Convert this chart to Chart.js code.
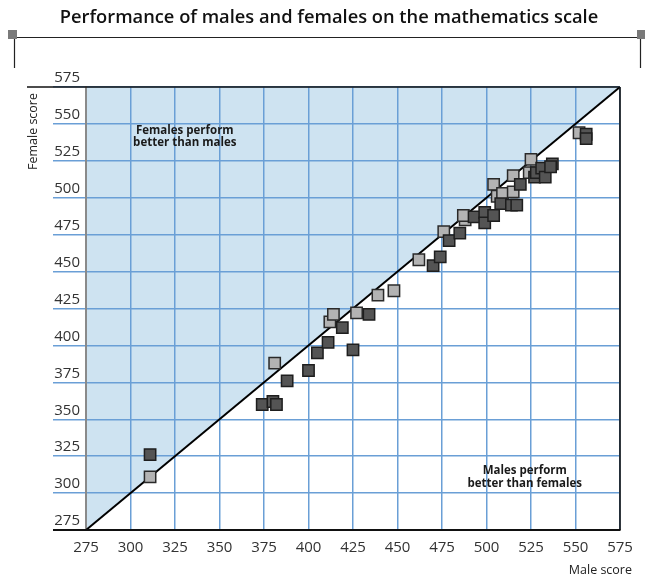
<!DOCTYPE html>
<html>
<head>
<meta charset="utf-8">
<title>Performance of males and females on the mathematics scale</title>
<script src="https://cdn.jsdelivr.net/npm/chart.js@4/dist/chart.umd.min.js"></script>
<style>
  html, body { margin: 0; padding: 0; background: #ffffff; }
  canvas { display: block; }
</style>
</head>
<body>
<canvas id="chart" width="645" height="576"></canvas>
<script>
// Text
const chartTitle = 'Performance of males and females on the mathematics scale';
const xAxisTitle = 'Male score';
const yAxisTitle = 'Female score';
const femaleNote = ['Females perform', 'better than males'];
const maleNote = ['Males perform', 'better than females'];

// Axis ticks (score points)
const scoreTicks = [275, 300, 325, 350, 375, 400, 425, 450, 475, 500, 525, 550, 575];

// Line of equal performance (male score = female score)
const parityScores = [275, 575];

// Countries where the gender difference is not statistically significant
const nsMale   = [311, 381, 412, 414, 427, 439, 448, 462, 476, 488, 487, 504, 506, 509, 515, 515, 524, 525, 552];
const nsFemale = [311, 388, 416, 421, 422, 434, 437, 458, 477, 485, 488, 509, 501, 503, 504, 515, 517, 526, 544];

// Countries where the gender difference is statistically significant
const sigMale   = [311, 374, 380, 382, 388, 400, 405, 411, 419, 425, 434, 470, 474, 479, 485, 493, 499, 499, 504, 508, 514, 517, 519, 527, 528, 531, 533, 537, 536, 556, 556];
const sigFemale = [326, 360, 362, 360, 376, 383, 395, 402, 412, 397, 421, 454, 460, 471, 476, 487, 490, 483, 488, 496, 495, 495, 509, 514, 517, 520, 514, 523, 521, 543, 540];

const toPoints = (xs, ys) => xs.map((x, i) => ({ x: x, y: ys[i] }));

const FONT = "'Open Sans', 'DejaVu Sans', sans-serif";
const GRID_BLUE = '#6a9fd6';
const AREA_BLUE = '#cee3f1';

// Shades the region where females score higher, underneath the grid
const femaleRegion = {
  id: 'femaleRegion',
  beforeDraw(chart) {
    const { ctx, scales: { x, y } } = chart;
    const lo = parityScores[0], hi = parityScores[1];
    ctx.save();
    ctx.fillStyle = AREA_BLUE;
    ctx.beginPath();
    ctx.moveTo(x.getPixelForValue(lo), y.getPixelForValue(lo));
    ctx.lineTo(x.getPixelForValue(hi), y.getPixelForValue(hi));
    ctx.lineTo(x.getPixelForValue(lo), y.getPixelForValue(hi));
    ctx.closePath();
    ctx.fill();
    ctx.restore();
  }
};

// Frame lines, header rule, axis titles and region notes
const frameDecor = {
  id: 'frameDecor',
  afterDraw(chart) {
    const { ctx, chartArea: a, scales: { x, y } } = chart;
    ctx.save();
    ctx.strokeStyle = '#111';
    ctx.lineCap = 'butt';

    // top frame line (extends left past the tick labels)
    ctx.lineWidth = 1.6;
    ctx.beginPath();
    ctx.moveTo(27, a.top);
    ctx.lineTo(a.right, a.top);
    ctx.stroke();

    // right frame line
    ctx.beginPath();
    ctx.moveTo(a.right, a.top);
    ctx.lineTo(a.right, a.bottom);
    ctx.stroke();

    // bottom frame line
    ctx.lineWidth = 2;
    ctx.beginPath();
    ctx.moveTo(53, a.bottom);
    ctx.lineTo(a.right, a.bottom);
    ctx.stroke();

    // header rule with end caps
    ctx.lineWidth = 1.2;
    ctx.strokeStyle = '#222';
    ctx.beginPath();
    ctx.moveTo(13, 37.5);
    ctx.lineTo(640, 37.5);
    ctx.moveTo(14.5, 37.5);
    ctx.lineTo(14.5, 68);
    ctx.moveTo(640.5, 37.5);
    ctx.lineTo(640.5, 68);
    ctx.stroke();
    ctx.fillStyle = '#7a7a7a';
    ctx.fillRect(8, 30, 9, 9);
    ctx.fillRect(637, 30, 9, 9);

    // axis titles
    ctx.fillStyle = '#222';
    ctx.font = '12.5px ' + FONT;
    ctx.textBaseline = 'middle';
    ctx.textAlign = 'right';
    ctx.fillText(xAxisTitle, 632, 570);
    ctx.save();
    ctx.translate(33, 93);
    ctx.rotate(-Math.PI / 2);
    ctx.textAlign = 'right';
    ctx.fillText(yAxisTitle, 0, 0);
    ctx.restore();

    // region notes
    ctx.fillStyle = '#1a1a1a';
    ctx.font = 'bold 11.5px ' + FONT;
    ctx.textAlign = 'center';
    const fx = x.getPixelForValue(330.5), fy = y.getPixelForValue(545.5);
    ctx.fillText(femaleNote[0], fx, fy);
    ctx.fillText(femaleNote[1], fx, fy + 12.5);
    const mx = x.getPixelForValue(521.5), my = y.getPixelForValue(315);
    ctx.fillText(maleNote[0], mx, my);
    ctx.fillText(maleNote[1], mx, my + 12.5);

    ctx.restore();
  }
};

new Chart(document.getElementById('chart'), {
  type: 'scatter',
  data: {
    datasets: [
      {
        label: 'Equal performance',
        type: 'line',
        data: toPoints(parityScores, parityScores),
        borderColor: '#000',
        borderWidth: 2,
        pointRadius: 0,
        fill: false,
        order: 3
      },
      {
        label: 'Difference not statistically significant',
        data: toPoints(nsMale, nsFemale),
        pointStyle: 'rect',
        pointRadius: 8,
        pointHoverRadius: 8,
        backgroundColor: '#b3b3b3',
        borderColor: '#2a2a2a',
        borderWidth: 1.5,
        order: 2
      },
      {
        label: 'Difference statistically significant',
        data: toPoints(sigMale, sigFemale),
        pointStyle: 'rect',
        pointRadius: 8,
        pointHoverRadius: 8,
        backgroundColor: '#545454',
        borderColor: '#1e1e1e',
        borderWidth: 1.5,
        order: 1
      }
    ]
  },
  options: {
    responsive: false,
    animation: false,
    events: [],
    layout: { padding: { top: 0, right: 25, bottom: 0, left: 38 } },
    plugins: {
      legend: { display: false },
      tooltip: { enabled: false },
      title: {
        display: true,
        text: chartTitle,
        color: '#111',
        font: { family: FONT, size: 18.3, weight: '600', lineHeight: 1.2 },
        padding: { top: 7, bottom: 58.04 }
      }
    },
    scales: {
      x: {
        type: 'linear',
        min: scoreTicks[0],
        max: scoreTicks[scoreTicks.length - 1],
        afterBuildTicks: (s) => { s.ticks = scoreTicks.map(v => ({ value: v })); },
        afterFit: (s) => { s.height = 46; },
        grid: { color: GRID_BLUE, lineWidth: 1.5, drawTicks: false },
        border: { color: '#000', width: 2 },
        ticks: {
          color: '#333',
          font: { family: FONT, size: 15 },
          padding: 9,
          maxRotation: 0,
          autoSkip: false
        }
      },
      y: {
        type: 'linear',
        min: scoreTicks[0],
        max: scoreTicks[scoreTicks.length - 1],
        afterBuildTicks: (s) => { s.ticks = scoreTicks.map(v => ({ value: v })); },
        afterFit: (s) => { s.width = 48; },
        grid: { color: GRID_BLUE, lineWidth: 1.5, drawTicks: true, tickLength: 33, tickColor: GRID_BLUE, tickWidth: 1.5 },
        border: { color: '#8a8a8a', width: 2 },
        ticks: {
          color: '#333',
          font: { family: FONT, size: 15 },
          padding: -27,
          labelOffset: -9,
          autoSkip: false
        }
      }
    }
  },
  plugins: [femaleRegion, frameDecor]
});
</script>
</body>
</html>
